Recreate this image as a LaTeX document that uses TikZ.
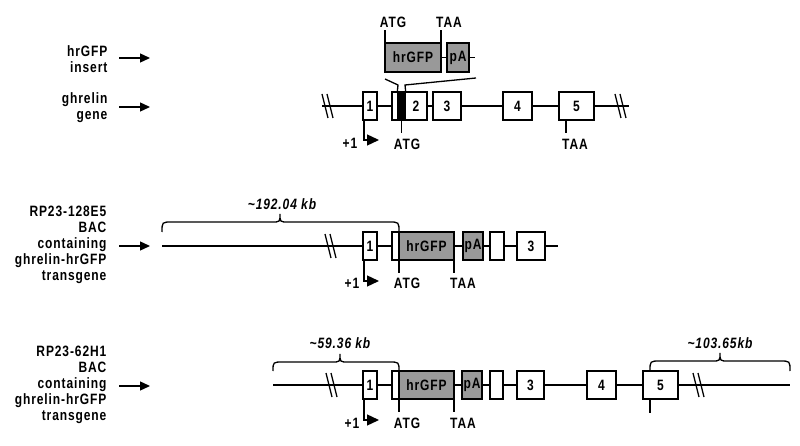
\documentclass[tikz,border=0pt]{standalone}
\usepackage{fontspec}
\setmainfont{Liberation Sans}[LetterSpace=6,FakeStretch=0.8]
\usetikzlibrary{arrows.meta}
\newcommand\lblfont{\fontsize{15}{16}\selectfont\bfseries}
\newcommand\kbfont{\fontsize{15}{16}\selectfont\bfseries\itshape}
\newcommand\brkmark[2]{\draw (#1-4,#2-12) -- (#1+2,#2+12); \draw (#1+1,#2-12) -- (#1+7,#2+12);}
\begin{document}
\begin{tikzpicture}[x=1pt,y=-1pt,line width=1.3pt,
  ex/.style={draw,fill=white,minimum height=28pt,inner sep=0pt,outer sep=0pt,font=\lblfont},
  gx/.style={ex,fill=black!40},
  lbl/.style={font=\lblfont,inner sep=0pt},
  lab/.style={lbl,align=right,anchor=east},
  kb/.style={font=\kbfont,inner sep=0pt},
  arr/.style={-{Triangle[length=10pt,width=9pt]}},
  tss/.style={-{Triangle[length=12pt,width=11pt]}}]
\useasboundingbox (0,0) rectangle (800,446);

% ---------- left labels ----------
\node[lab] (l1) at (108,59) {hrGFP\\insert};
\node[lab] (l2) at (108,108) {ghrelin\\gene};
\node[lab] (l3) at (107,245) {RP23-128E5\\BAC\\containing\\ghrelin-hrGFP\\transgene};
\node[lab] (l4) at (107,385) {RP23-62H1\\BAC\\containing\\ghrelin-hrGFP\\transgene};
\coordinate (a1s) at (119,58);  \coordinate (a1e) at (150,58);
\coordinate (a2s) at (119,107); \coordinate (a2e) at (150,107);
\coordinate (a3s) at (119,246); \coordinate (a3e) at (150,246);
\coordinate (a4s) at (119,386); \coordinate (a4e) at (150,386);
\draw[arr] (a1s) -- (a1e);
\draw[arr] (a2s) -- (a2e);
\draw[arr] (a3s) -- (a3e);
\draw[arr] (a4s) -- (a4e);

% ---------- hrGFP insert ----------
\node[gx,minimum width=56pt,minimum height=29pt] (ig) at (413,57.5) {hrGFP};
\node[gx,minimum width=22pt,minimum height=29pt] (ip) at (458,57.5) {pA};
\coordinate (ipe) at (475,57.5);
\draw (ig.east) -- (ip.west);
\draw (ip.east) -- (ipe);
\draw (ig.north west) -- ++(0,-13) coordinate (iatg);
\draw (ig.north east) -- ++(0,-13) coordinate (itaa);
\node[lbl] (tatg) at (393,22) {ATG};
\node[lbl] (ttaa) at (449,22) {TAA};

% ---------- ghrelin gene ----------
\coordinate (g0) at (322,106); \coordinate (g1) at (629,106);
\draw (g0) -- (g1);
\brkmark{326}{106}
\brkmark{619}{106}
\node[ex,minimum width=14pt] (ge1) at (370,106) {1};
\node[ex,minimum width=35pt] (ge2) at (409.5,106) {};
\node[draw,fill=black,minimum width=7pt,minimum height=28pt,inner sep=0pt] (gbar) at (401.5,106) {};
\node[lbl] at (416,106) {2};
\node[ex,minimum width=28pt] (ge3) at (447,106) {3};
\node[ex,minimum width=29pt] (ge4) at (517.5,106) {4};
\node[ex,minimum width=35pt] (ge5) at (576.5,106) {5};
\coordinate (il) at (385,79); \coordinate (ir) at (476,78);
\draw (il) -- (398,85) -- (gbar.north west);
\draw (ir) -- (405,85) -- (gbar.north east);
\draw (gbar.south) -- ++(0,12);
\node[lbl] (gatg) at (407,144) {ATG};
\draw (566,120) -- (566,133);
\node[lbl] (gtaa) at (575,144) {TAA};
\draw[tss] (ge1.south west) ++(1,0) -- ++(0,20) -- ++(15,0);
\node[lbl] (gp1) at (350,143) {+1};

% ---------- RP23-128E5 ----------
\coordinate (b0) at (162,246); \coordinate (b1) at (558,246);
\draw (b0) -- (b1);
\brkmark{329}{246}
\node[ex,minimum width=14pt] (be1) at (370,246) {1};
\node[ex,minimum width=7pt] (be2) at (395.5,246) {};
\node[gx,minimum width=55pt] (bg) at (426.5,246) {hrGFP};
\node[gx,minimum width=20pt] (bp) at (473,246) {pA};
\node[ex,minimum width=14pt] (bx) at (497,246) {};
\node[ex,minimum width=28pt] (be3) at (531,246) {3};
\draw (bg.south west) -- ++(0,13);
\draw (bg.south east) -- ++(0,13);
\node[lbl] at (407,283) {ATG};
\node[lbl] at (463,283) {TAA};
\draw[tss] (be1.south west) ++(1,0) -- ++(0,21) -- ++(15,0);
\node[lbl] at (352,283) {+1};
\draw (162,232) .. controls (162,222) .. (172,222) -- (272,222) .. controls (280,222) .. (280,214)
      .. controls (280,222) .. (288,222) -- (389,222) .. controls (399,222) .. (399,232);
\node[kb] at (282,204) {\textasciitilde192.04 kb};

% ---------- RP23-62H1 ----------
\coordinate (c0) at (273,385); \coordinate (c1) at (790,385);
\draw (c0) -- (c1);
\brkmark{330}{385}
\brkmark{697}{385}
\node[ex,minimum width=14pt] (ce1) at (370,385) {1};
\node[ex,minimum width=7pt] (ce2) at (395.5,385) {};
\node[gx,minimum width=55pt] (cg) at (426.5,385) {hrGFP};
\node[gx,minimum width=20pt] (cp) at (472,385) {pA};
\node[ex,minimum width=13pt] (cx) at (496.5,385) {};
\node[ex,minimum width=27pt] (ce3) at (530.5,385) {3};
\node[ex,minimum width=29pt] (ce4) at (601.5,385) {4};
\node[ex,minimum width=35pt] (ce5) at (660.5,385) {5};
\draw (cg.south west) -- ++(0,13);
\draw (cg.south east) -- ++(0,13);
\draw (650,399) -- (650,413);
\node[lbl] at (407,423) {ATG};
\node[lbl] at (463,423) {TAA};
\draw[tss] (ce1.south west) ++(1,0) -- ++(0,21) -- ++(15,0);
\node[lbl] at (352,423) {+1};
\draw (273,371) .. controls (273,362) .. (283,362) -- (332,362) .. controls (340,362) .. (340,354)
      .. controls (340,362) .. (348,362) -- (389,362) .. controls (399,362) .. (399,371);
\node[kb] at (340,343) {\textasciitilde59.36 kb};
\draw (650,371) .. controls (650,361) .. (660,361) -- (712,361) .. controls (720,361) .. (720,353)
      .. controls (720,361) .. (728,361) -- (780,361) .. controls (790,361) .. (790,371);
\node[kb] at (720,343) {\textasciitilde103.65kb};
\end{tikzpicture}
\end{document}
